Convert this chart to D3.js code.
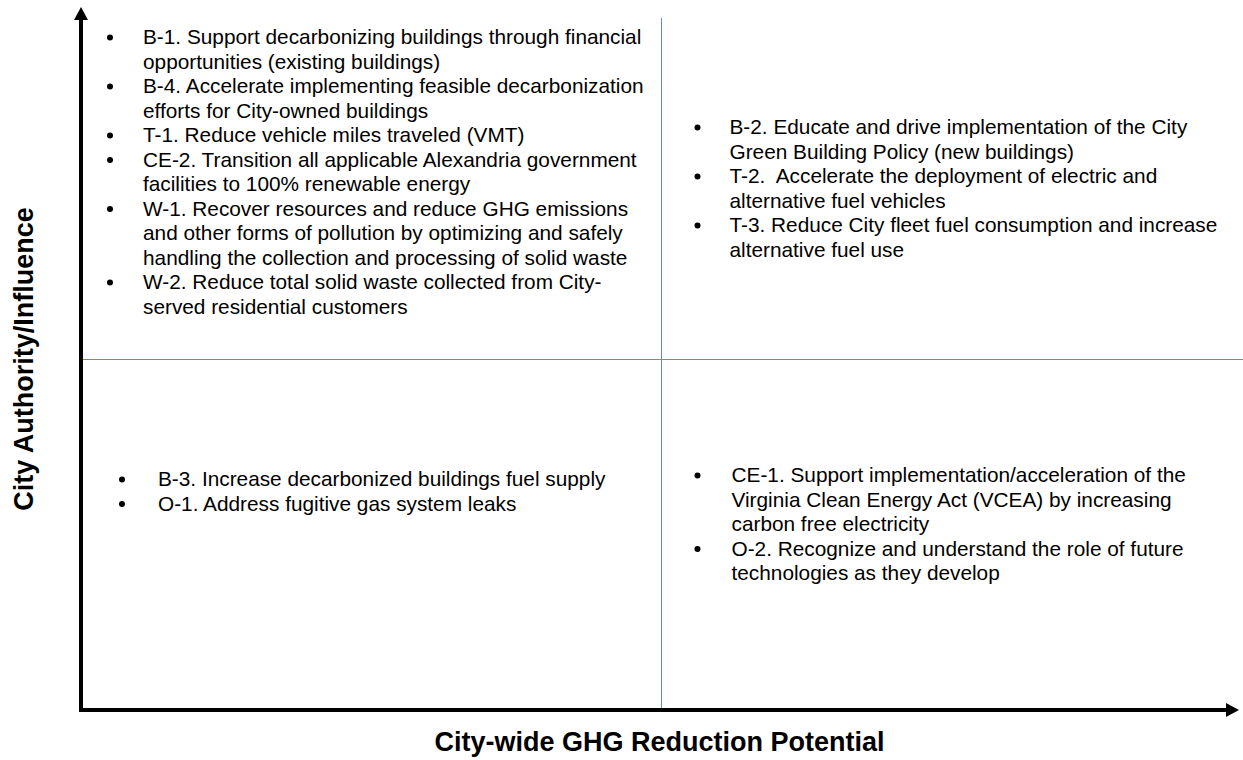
<!DOCTYPE html>
<html>
<head>
<meta charset="utf-8">
<script src="https://cdn.jsdelivr.net/npm/d3@7"></script>
<style>
  html, body { margin: 0; padding: 0; background: #fff; }
  svg { display: block; font-family: "Liberation Sans", Arial, sans-serif; }
</style>
</head>
<body>
<script>
var w = 1243;
var h = 760;

// axis titles
var xTitle = "City-wide GHG Reduction Potential";
var yTitle = "City Authority/Influence";

// quadrant keys: [ghg potential (0 low / 1 high), authority (0 low / 1 high)]
var quadrants = ["topLeft", "topRight", "bottomLeft", "bottomRight"];
var quadrantCell = [[0, 1], [1, 1], [0, 0], [1, 0]];

// each item is one bullet, already wrapped into lines as in the picture
var topLeftItems = [
  ["B-1. Support decarbonizing buildings through financial", "opportunities (existing buildings)"],
  ["B-4. Accelerate implementing feasible decarbonization", "efforts for City-owned buildings"],
  ["T-1. Reduce vehicle miles traveled (VMT)"],
  ["CE-2. Transition all applicable Alexandria government", "facilities to 100% renewable energy"],
  ["W-1. Recover resources and reduce GHG emissions", "and other forms of pollution by optimizing and safely", "handling the collection and processing of solid waste"],
  ["W-2. Reduce total solid waste collected from City-", "served residential customers"]
];
var topRightItems = [
  ["B-2. Educate and drive implementation of the City", "Green Building Policy (new buildings)"],
  ["T-2.  Accelerate the deployment of electric and", "alternative fuel vehicles"],
  ["T-3. Reduce City fleet fuel consumption and increase", "alternative fuel use"]
];
var bottomLeftItems = [
  ["B-3. Increase decarbonized buildings fuel supply"],
  ["O-1. Address fugitive gas system leaks"]
];
var bottomRightItems = [
  ["CE-1. Support implementation/acceleration of the", "Virginia Clean Energy Act (VCEA) by increasing", "carbon free electricity"],
  ["O-2. Recognize and understand the role of future", "technologies as they develop"]
];
var itemsByQuadrant = [topLeftItems, topRightItems, bottomLeftItems, bottomRightItems];

// layout of each text block inside its quadrant (offsets from the quadrant's left/top edge)
var blockLayout = {
  topLeft:     { bullet: 29, text: 62, top: 36 },
  topRight:    { bullet: 37, text: 69, top: 126 },
  bottomLeft:  { bullet: 41, text: 77, top: 127 },
  bottomRight: { bullet: 37, text: 71, top: 123 }
};
var lineHeight = 24.5;
var bodySize = 20.8;
var titleSize = 27;
var dividerColor = "#5f8ad8";

var x = d3.scaleLinear().domain([0, 2]).range([81, 1240]);
var y = d3.scaleLinear().domain([0, 2]).range([710, 8]);

var svg = d3.select("body")
  .append("svg")
  .attr("width", w)
  .attr("height", h);

// quadrant dividers
svg.append("line")
  .attr("x1", Math.round(x(1)) + 0.5)
  .attr("x2", Math.round(x(1)) + 0.5)
  .attr("y1", 18)
  .attr("y2", y(0))
  .attr("stroke", dividerColor)
  .attr("stroke-width", 1);

svg.append("line")
  .attr("x1", x(0))
  .attr("x2", w)
  .attr("y1", Math.round(y(1)) + 0.5)
  .attr("y2", Math.round(y(1)) + 0.5)
  .attr("stroke", dividerColor)
  .attr("stroke-width", 1);

// axes with arrow heads
svg.append("line")
  .attr("x1", x(0))
  .attr("x2", x(0))
  .attr("y1", y(0) + 2)
  .attr("y2", 18)
  .attr("stroke", "#000")
  .attr("stroke-width", 4);

svg.append("path")
  .attr("d", "M" + x(0) + ",7 L" + (x(0) - 7) + ",20 L" + (x(0) + 7) + ",20 Z")
  .attr("fill", "#000");

svg.append("line")
  .attr("x1", x(0) - 2)
  .attr("x2", 1228)
  .attr("y1", y(0))
  .attr("y2", y(0))
  .attr("stroke", "#000")
  .attr("stroke-width", 4);

svg.append("path")
  .attr("d", "M1239," + y(0) + " L1226," + (y(0) - 7) + " L1226," + (y(0) + 7) + " Z")
  .attr("fill", "#000");

// axis titles
svg.append("text")
  .attr("x", (x(0) + x(2)) / 2 - 1)
  .attr("y", 751)
  .attr("text-anchor", "middle")
  .attr("font-weight", "bold")
  .attr("font-size", titleSize)
  .attr("fill", "#000")
  .text(xTitle);

svg.append("text")
  .attr("transform", "translate(33," + y(1) + ") rotate(-90)")
  .attr("text-anchor", "middle")
  .attr("font-weight", "bold")
  .attr("font-size", titleSize)
  .attr("fill", "#000")
  .text(yTitle);

// bullet lists
quadrants.forEach(function(q, qi) {
  var cell = quadrantCell[qi];
  var left = x(cell[0]);
  var top = y(cell[1] + 1);
  var lay = blockLayout[q];
  var g = svg.append("g").attr("class", "quadrant " + q);

  var lineNo = 0;
  itemsByQuadrant[qi].forEach(function(lines) {
    var baseline = top + lay.top + lineNo * lineHeight;
    g.append("circle")
      .attr("cx", left + lay.bullet)
      .attr("cy", baseline - 6.5)
      .attr("r", 3)
      .attr("fill", "#000");
    lines.forEach(function(line, li) {
      g.append("text")
        .attr("x", left + lay.text)
        .attr("y", top + lay.top + (lineNo + li) * lineHeight)
        .attr("font-size", bodySize)
        .attr("fill", "#000")
        .attr("xml:space", "preserve")
        .style("white-space", "pre")
        .text(line);
    });
    lineNo += lines.length;
  });
});
</script>
</body>
</html>
